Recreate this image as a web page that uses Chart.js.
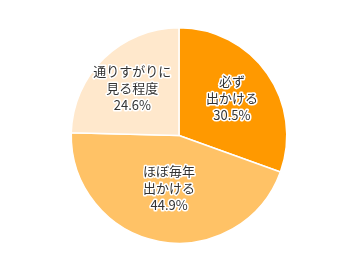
<!DOCTYPE html>
<html>
<head>
<meta charset="utf-8">
<script src="https://cdn.jsdelivr.net/npm/chart.js@4"></script>
<style>
  html, body { margin: 0; padding: 0; background: #fff; }
  #wrap { width: 358px; height: 271px; }
</style>
</head>
<body>
<div id="wrap"><canvas id="pieChart" width="358" height="271"></canvas></div>
<script>
// データ
const labels = [['必ず', '出かける'], ['ほぼ毎年', '出かける'], ['通りすがりに', '見る程度']];
const values = [30.5, 44.9, 24.6];
const colors = ['#FF9900', '#FFC266', '#FFE8CC'];
const labelRadius = [0.6, 0.5, 0.62]; // ラベルの位置 (半径に対する割合)

// ラベルを扇形の中に描く
const sliceLabels = {
    id: 'sliceLabels',
    afterDatasetsDraw(chart) {
        const ctx = chart.ctx;
        const meta = chart.getDatasetMeta(0);
        ctx.save();
        ctx.font = '13px "Noto Sans CJK JP", sans-serif';
        ctx.textAlign = 'center';
        ctx.textBaseline = 'middle';
        ctx.lineJoin = 'round';
        meta.data.forEach((arc, i) => {
            const mid = (arc.startAngle + arc.endAngle) / 2;
            const r = arc.outerRadius * labelRadius[i];
            const x = arc.x + Math.cos(mid) * r;
            const y = arc.y + Math.sin(mid) * r;
            const lines = labels[i].concat([values[i].toFixed(1) + '%']);
            const lh = 17;
            lines.forEach((line, j) => {
                const ly = y + (j - (lines.length - 1) / 2) * lh;
                ctx.strokeStyle = '#fff';
                ctx.lineWidth = 3;
                ctx.strokeText(line, x, ly);
                ctx.fillStyle = '#333';
                ctx.fillText(line, x, ly);
            });
        });
        ctx.restore();
    }
};

const ctx = document.getElementById('pieChart').getContext('2d');
const pieChart = new Chart(ctx, {
    type: 'pie',
    data: {
        labels: labels.map(l => l.join('')),
        datasets: [{
            data: values,
            backgroundColor: colors,
            borderColor: '#fff',
            borderWidth: 1.5,
        }],
    },
    options: {
        responsive: false,
        animation: false,
        layout: { padding: 27 },
        plugins: {
            legend: { display: false },
            tooltip: { enabled: false },
        },
    },
    plugins: [sliceLabels],
});
</script>
</body>
</html>
